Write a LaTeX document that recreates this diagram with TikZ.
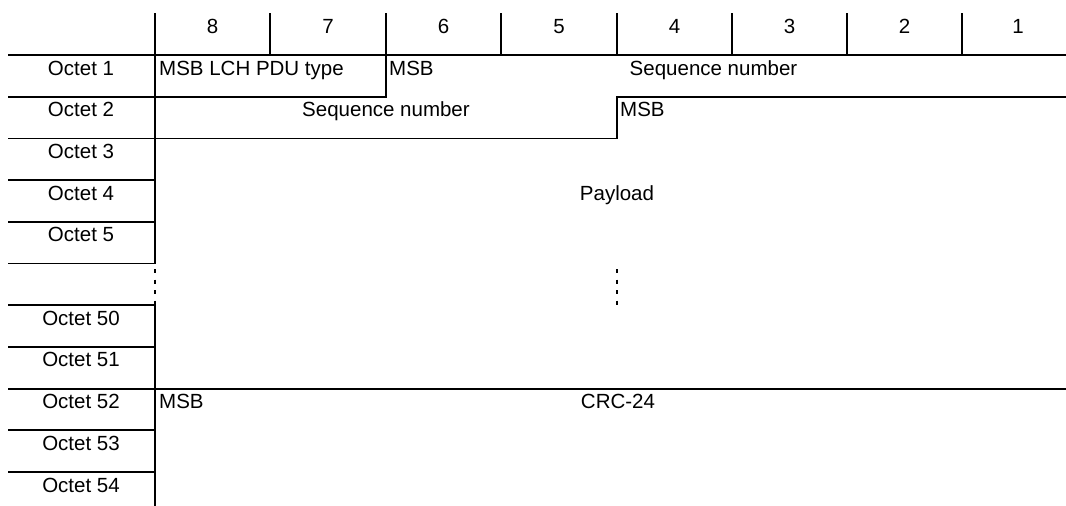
\documentclass[tikz,border=0pt]{standalone}
\usepackage{fontspec}
\setmainfont{Liberation Sans}
\begin{document}
\begin{tikzpicture}[x=1pt,y=-1pt,
  rule/.style={line width=1.8pt},
  dotrule/.style={line width=1.8pt,dash pattern=on 4pt off 6.5pt},
  lbl/.style={anchor=base,inner sep=0pt,font=\fontsize{20.5}{24}\selectfont},
  lft/.style={lbl,anchor=base west}]
\useasboundingbox (0,0) rectangle (1066,506);
% row lines
\def\Ltwo{96.7}\def\Lthree{138.4}\def\Lfour{180.1}\def\Lfive{221.8}
\def\Lsix{263.5}\def\Lseven{305.2}\def\Leight{346.9}\def\Lnine{388.6}
\def\Lten{430.3}\def\Leleven{472.0}
% header verticals
\foreach \x in {270,386,501,617,732,847,962}
  \draw[rule] (\x,13) -- (\x,55);
% main left vertical
\draw[rule] (155,13) -- (155,\Lsix);
\draw[dotrule] (155,269) -- (155,305);
\draw[rule] (155,\Lseven) -- (155,506);
% top line
\draw[rule] (8,55) -- (1066,55);
% left column lines
\foreach \y in {\Ltwo,\Lthree,\Lfour,\Lfive,\Lsix,\Lseven,\Leight,\Lten,\Leleven}
  \draw[rule] (8,\y) -- (155,\y);
% octet 1 / 2 fields
\draw[rule] (155,\Ltwo) -- (386,\Ltwo) -- (386,55);
\draw[rule] (155,\Lthree) -- (617,\Lthree) -- (617,\Ltwo) -- (1066,\Ltwo);
\draw[dotrule] (617,269) -- (617,305);
% CRC line
\draw[rule] (8,\Lnine) -- (1066,\Lnine);
% header numbers
\node[lbl] (h8) at (212.5,33) {8};
\node[lbl] (h7) at (328,33) {7};
\node[lbl] (h6) at (443.5,33) {6};
\node[lbl] (h5) at (559,33) {5};
\node[lbl] (h4) at (674.5,33) {4};
\node[lbl] (h3) at (789.5,33) {3};
\node[lbl] (h2) at (904.5,33) {2};
\node[lbl] (h1) at (1018,33) {1};
% octet labels
\node[lbl] (o1) at (81,75) {Octet 1};
\node[lbl] (o2) at (81,\Ltwo+20) {Octet 2};
\node[lbl] (o3) at (81,\Lthree+20) {Octet 3};
\node[lbl] (o4) at (81,\Lfour+20) {Octet 4};
\node[lbl] (o5) at (81,\Lfive+20) {Octet 5};
\node[lbl] (o50) at (81,\Lseven+20) {Octet 50};
\node[lbl] (o51) at (81,\Leight+20) {Octet 51};
\node[lbl] (o52) at (81,\Lnine+20) {Octet 52};
\node[lbl] (o53) at (81,\Lten+20) {Octet 53};
\node[lbl] (o54) at (81,\Leleven+20) {Octet 54};
% field labels
\node[lft] (lch) at (159,75) {MSB LCH PDU type};
\node[lft] (msb1) at (389,75) {MSB};
\node[lbl] (seq1) at (713.5,75) {Sequence number};
\node[lbl] (seq2) at (386,\Ltwo+20) {Sequence number};
\node[lft] (msb2) at (620,\Ltwo+20) {MSB};
\node[lbl] (pay) at (617,\Lfour+20) {Payload};
\node[lft] (msb3) at (159,\Lnine+20) {MSB};
\node[lbl] (crc) at (618,\Lnine+20) {CRC-24};
\end{tikzpicture}
\end{document}
